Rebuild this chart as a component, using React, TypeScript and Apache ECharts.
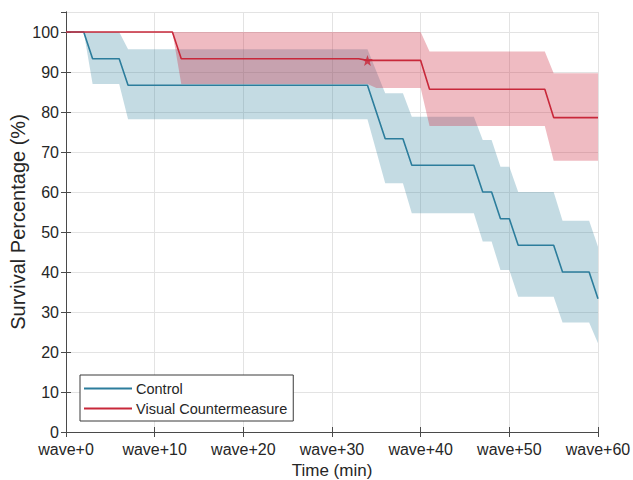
import React, { useEffect, useRef } from "react";
import * as echarts from "echarts";

// ---- Data ----
const xTicks = [0, 10, 20, 30, 40, 50, 60];
const yTicks = [0, 10, 20, 30, 40, 50, 60, 70, 80, 90, 100];

// Control survival curve
const ctrlTime = [0, 2, 3, 6, 7, 34, 36, 38, 39, 46, 47, 48, 49, 50, 51, 55, 56, 59, 60];
const ctrlSurv = [100, 100, 93.3, 93.3, 86.7, 86.7, 73.3, 73.3, 66.7, 66.7, 60, 60, 53.3, 53.3, 46.7, 46.7, 40, 40, 33.3];
const ctrlUpper = [100, 100, 100, 100, 95.7, 95.7, 84.7, 84.7, 78.8, 78.8, 73, 73, 66.3, 66.3, 60, 60, 52.8, 52.8, 46.3];
const ctrlLower = [100, 100, 87, 87, 78.2, 78.2, 62.2, 62.2, 54.7, 54.7, 47.6, 47.6, 40.5, 40.5, 33.8, 33.8, 27.4, 27.4, 22.2];

// Visual Countermeasure survival curve
const vcTime = [0, 12, 13, 33, 34, 40, 41, 54, 55, 60];
const vcSurv = [100, 100, 93.3, 93.3, 92.9, 92.9, 85.7, 85.7, 78.6, 78.6];
const vcBandTime = [0, 12, 13, 34, 35, 40, 41, 54, 55, 60];
const vcUpper = [100, 100, 100, 100, 100, 100, 95.1, 95.1, 89.7, 89.7];
const vcLower = [100, 100, 87, 87, 86, 86, 76.5, 76.5, 67.8, 67.8];

// Censor marker
const vcCensorTime = [34];
const vcCensorSurv = [92.9];

const seriesNames = ["Control", "Visual Countermeasure"];

const TEAL = "#2c7d9c";
const RED = "#c8283a";
const FONT = "'Liberation Sans', Arial, Helvetica, sans-serif";
const TXT = "#262626";
const STAR =
  "path://M0,-10 L2.35,-3.24 L9.51,-3.09 L3.8,1.24 L5.88,8.09 L0,4 L-5.88,8.09 L-3.8,1.24 L-9.51,-3.09 L-2.35,-3.24 Z";

function bandRender(fill: string) {
  return (params: any, api: any) => {
    if (params.dataIndexInside !== 0) return null;
    const n = params.dataInsideLength;
    const top: number[][] = [];
    const bottom: number[][] = [];
    for (let i = 0; i < n; i++) {
      const x = api.value(0, i);
      top.push(api.coord([x, api.value(2, i)]));
      bottom.push(api.coord([x, api.value(1, i)]));
    }
    const points = top.concat(bottom.reverse());
    return {
      type: "polygon",
      shape: { points },
      style: { fill, stroke: "none" },
      silent: true,
    };
  };
}

export default function App() {
  const ref = useRef<HTMLDivElement>(null);

  useEffect(() => {
    if (!ref.current) return;
    const chart = echarts.init(ref.current, undefined, { renderer: "svg" });

    const pairs = (xs: number[], ys: number[]) => xs.map((x, i) => [x, ys[i]]);
    const triples = (xs: number[], lo: number[], hi: number[]) => xs.map((x, i) => [x, lo[i], hi[i]]);

    chart.setOption({
      animation: false,
      backgroundColor: "#ffffff",
      textStyle: { fontFamily: FONT },
      grid: { left: 66, right: 35, top: 12, bottom: 48, containLabel: false, outerBoundsMode: "none" },
      legend: {
        data: seriesNames.map((name) => ({ name, icon: "rect" })),
        orient: "vertical",
        left: 80,
        top: 375,
        itemWidth: 48,
        itemHeight: 2,
        itemGap: 5,
        padding: [6, 6, 5, 4],
        borderColor: "#3a3a3a",
        borderWidth: 1,
        backgroundColor: "#ffffff",
        borderRadius: 0,
        textStyle: { fontFamily: FONT, fontSize: 14.5, color: TXT, lineHeight: 14, padding: [0, 0, 0, -1] },
        selectedMode: false,
      },
      xAxis: [
        {
          type: "value",
          min: xTicks[0],
          max: xTicks[xTicks.length - 1],
          interval: 10,
          name: "Time (min)",
          nameLocation: "middle",
          nameGap: 30,
          nameMoveOverlap: false,
          nameTextStyle: { fontFamily: FONT, fontSize: 17, color: TXT },
          axisLine: { show: true, lineStyle: { color: "#4a4a4a", width: 1 } },
          axisTick: { show: true, inside: true, length: 5, lineStyle: { color: "#4a4a4a" } },
          axisLabel: {
            fontFamily: FONT,
            fontSize: 16,
            color: TXT,
            margin: 9,
            formatter: (v: number) => `wave+${v}`,
          },
          splitLine: { show: true, lineStyle: { color: "#e3e3e3", width: 1 } },
        },
        {
          type: "value",
          position: "top",
          min: 0,
          max: 60,
          interval: 10,
          axisLine: { show: true, lineStyle: { color: "#4a4a4a", width: 1 } },
          axisTick: { show: true, inside: true, length: 5, lineStyle: { color: "#4a4a4a" } },
          axisLabel: { show: false },
          splitLine: { show: false },
        },
      ],
      yAxis: [
        {
          type: "value",
          min: 0,
          max: 105,
          interval: 10,
          name: "Survival Percentage (%)",
          nameLocation: "middle",
          nameGap: 38,
          nameMoveOverlap: false,
          nameTextStyle: { fontFamily: FONT, fontSize: 20, color: TXT },
          axisLine: { show: true, lineStyle: { color: "#4a4a4a", width: 1 } },
          axisTick: { show: true, inside: true, length: 5, lineStyle: { color: "#4a4a4a" } },
          axisLabel: {
            fontFamily: FONT,
            fontSize: 16,
            color: TXT,
            margin: 7,
            showMaxLabel: false,
            formatter: (v: number) => (yTicks.includes(v) ? String(v) : ""),
          },
          splitLine: { show: true, lineStyle: { color: "#e3e3e3", width: 1 } },
        },
        {
          type: "value",
          position: "right",
          min: 0,
          max: 105,
          interval: 10,
          axisLine: { show: true, lineStyle: { color: "#4a4a4a", width: 1 } },
          axisTick: { show: true, inside: true, length: 5, lineStyle: { color: "#4a4a4a" } },
          axisLabel: { show: false },
          splitLine: { show: false },
        },
      ],
      series: [
        {
          name: "ctrlBand",
          type: "custom",
          renderItem: bandRender("rgba(52,130,160,0.29)"),
          encode: { x: 0, y: [1, 2] },
          data: triples(ctrlTime, ctrlLower, ctrlUpper),
          z: 1,
          silent: true,
        },
        {
          name: "vcBand",
          type: "custom",
          renderItem: bandRender("rgba(205,45,65,0.32)"),
          encode: { x: 0, y: [1, 2] },
          data: triples(vcBandTime, vcLower, vcUpper),
          z: 2,
          silent: true,
        },
        {
          name: seriesNames[0],
          type: "line",
          symbol: "none",
          color: TEAL,
          lineStyle: { color: TEAL, width: 1.6 },
          data: pairs(ctrlTime, ctrlSurv),
          z: 5,
        },
        {
          name: seriesNames[1],
          type: "line",
          symbol: "none",
          color: RED,
          lineStyle: { color: RED, width: 1.6 },
          data: pairs(vcTime, vcSurv),
          z: 6,
        },
        {
          name: "censor",
          type: "scatter",
          symbol: STAR,
          symbolSize: 11,
          itemStyle: { color: RED },
          data: pairs(vcCensorTime, vcCensorSurv),
          z: 7,
          silent: true,
        },
      ],
    });

    return () => chart.dispose();
  }, []);

  return (
    <div
      ref={ref}
      style={{ position: "absolute", left: 0, top: 0, width: 633, height: 480, background: "#fff" }}
    />
  );
}
